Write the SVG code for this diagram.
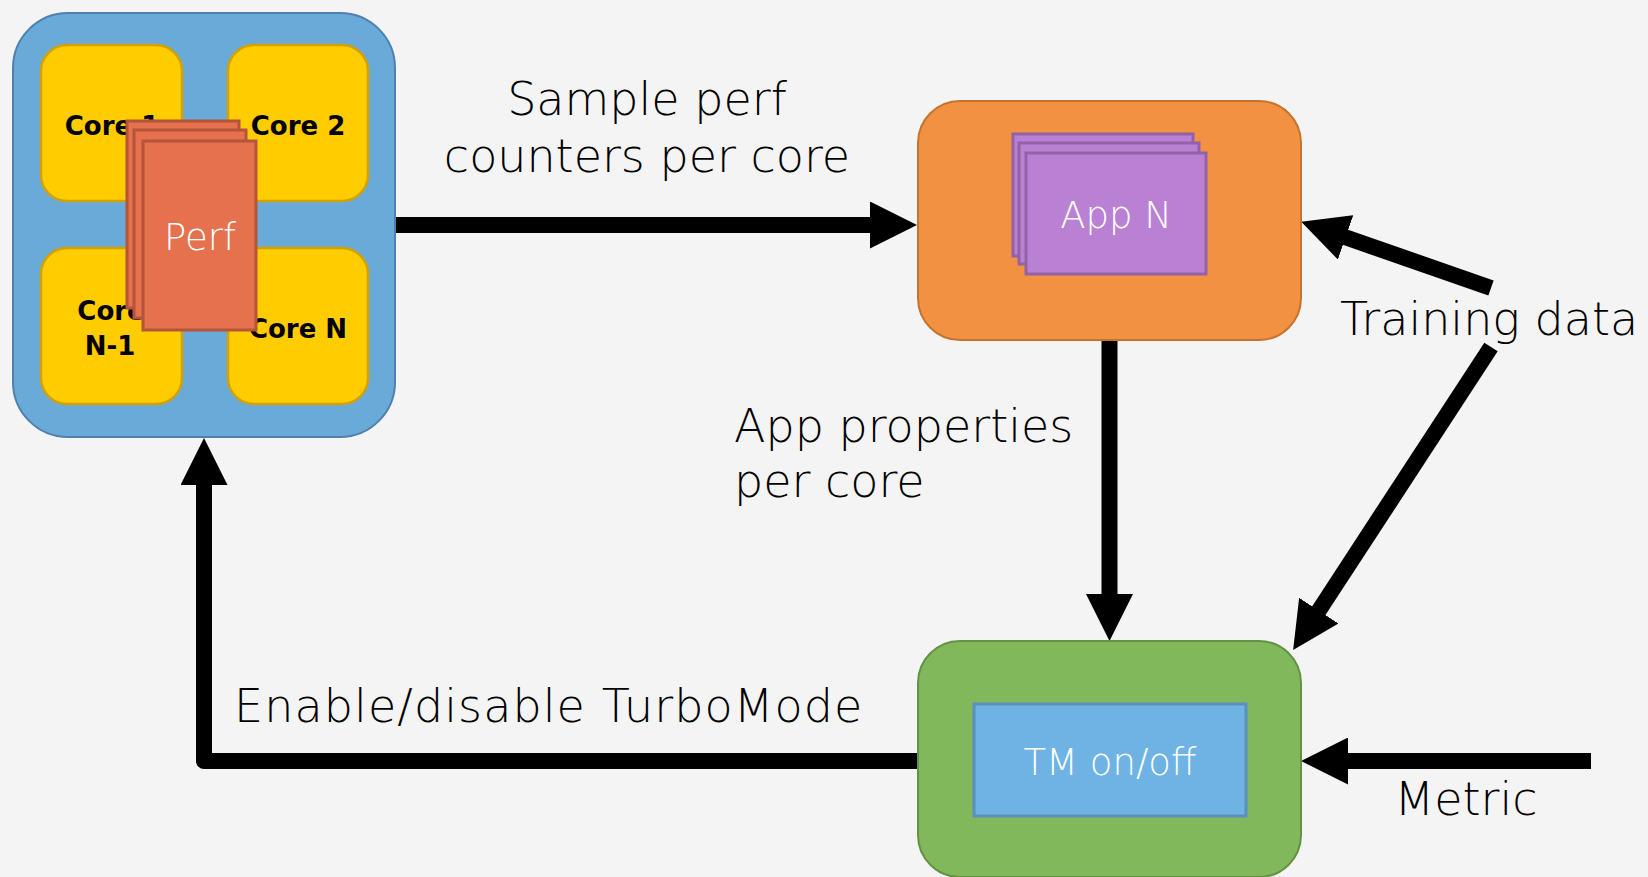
<svg xmlns="http://www.w3.org/2000/svg" width="1648" height="877" viewBox="0 0 1648 877">
<style>
.lbl{font-family:"DejaVu Sans","Liberation Sans",sans-serif;font-weight:300;font-size:46px;fill:#000}
.wt{font-family:"DejaVu Sans","Liberation Sans",sans-serif;font-weight:300;font-size:37px;fill:#fff;text-anchor:middle}
.core{font-family:"DejaVu Sans","Liberation Sans",sans-serif;font-weight:bold;font-size:26px;fill:#000;text-anchor:middle}
.yel{fill:#FFCC00;stroke:#D4A200;stroke-width:2.5}
.perf{fill:#E5714F;stroke:#B4553B;stroke-width:3}
.app{fill:#BA80D3;stroke:#9262A8;stroke-width:3}
.conn{stroke:#000;stroke-width:16;fill:none;marker-end:url(#ah)}
</style>
<defs>
<marker id="ah" viewBox="0 0 47 47" refX="7" refY="23.5" markerWidth="47" markerHeight="47" markerUnits="userSpaceOnUse" orient="auto">
<path d="M0,0 L47,23.5 L0,47 Z" fill="#000"/>
</marker>
</defs>
<rect x="0" y="0" width="1648" height="877" fill="#F4F4F4"/>

<g id="connectors">
<line class="conn" x1="394" y1="225" x2="877" y2="225"/>
<line class="conn" x1="1109.5" y1="340" x2="1109.5" y2="601"/>
<polyline class="conn" points="918,761 204,761 204,478" stroke-linejoin="round"/>
<line class="conn" x1="1591" y1="761" x2="1341" y2="761"/>
<line class="conn" x1="1491" y1="288" x2="1339" y2="235"/>
<line class="conn" x1="1491" y1="347" x2="1315" y2="616.5"/>
</g>

<g id="cpu">
<rect x="13" y="13" width="382" height="424" rx="55" ry="55" fill="#6AAAD9" stroke="#4F80AE" stroke-width="2"/>
<rect class="yel" x="41" y="45" width="141" height="156" rx="26"/>
<rect class="yel" x="228" y="45" width="140" height="156" rx="26"/>
<rect class="yel" x="41" y="248" width="141" height="156" rx="26"/>
<rect class="yel" x="228" y="248" width="140" height="156" rx="26"/>
<text class="core" x="112" y="135">Core 1</text>
<text class="core" x="298" y="135">Core 2</text>
<text class="core" x="111" y="320">Core</text>
<text class="core" x="110" y="355">N-1</text>
<text class="core" x="298" y="338">Core N</text>
</g>

<g id="perf">
<rect class="perf" x="127" y="121" width="112" height="187"/>
<rect class="perf" x="134" y="130" width="112" height="188"/>
<rect class="perf" x="143" y="141" width="113" height="189"/>
<text class="wt" x="200" y="250">Perf</text>
</g>

<g id="classifier">
<rect x="918" y="101" width="383" height="239" rx="42" ry="42" fill="#F29141" stroke="#C4742F" stroke-width="2"/>
<rect class="app" x="1013" y="134" width="180" height="122"/>
<rect class="app" x="1019" y="143" width="180" height="121"/>
<rect class="app" x="1026" y="153" width="180" height="121"/>
<text class="wt" x="1116" y="228">App N</text>
</g>

<g id="controller">
<rect x="918" y="641" width="383" height="236" rx="42" ry="42" fill="#82B85C" stroke="#649244" stroke-width="2"/>
<rect x="974" y="704" width="272" height="112" fill="#6EB3E3" stroke="#5B8FBF" stroke-width="3"/>
<text class="wt" x="1110" y="775">TM on/off</text>
</g>

<g id="labels">
<text class="lbl" x="647" y="115" text-anchor="middle">Sample perf</text>
<text class="lbl" x="647" y="172" text-anchor="middle">counters per core</text>
<text class="lbl" x="734" y="442">App properties</text>
<text class="lbl" x="734" y="497">per core</text>
<text class="lbl" x="234" y="722" letter-spacing="1.1">Enable/disable TurboMode</text>
<text class="lbl" x="1340" y="335">Training data</text>
<text class="lbl" x="1466" y="815" text-anchor="middle" font-size="45">Metric</text>
</g>
</svg>
